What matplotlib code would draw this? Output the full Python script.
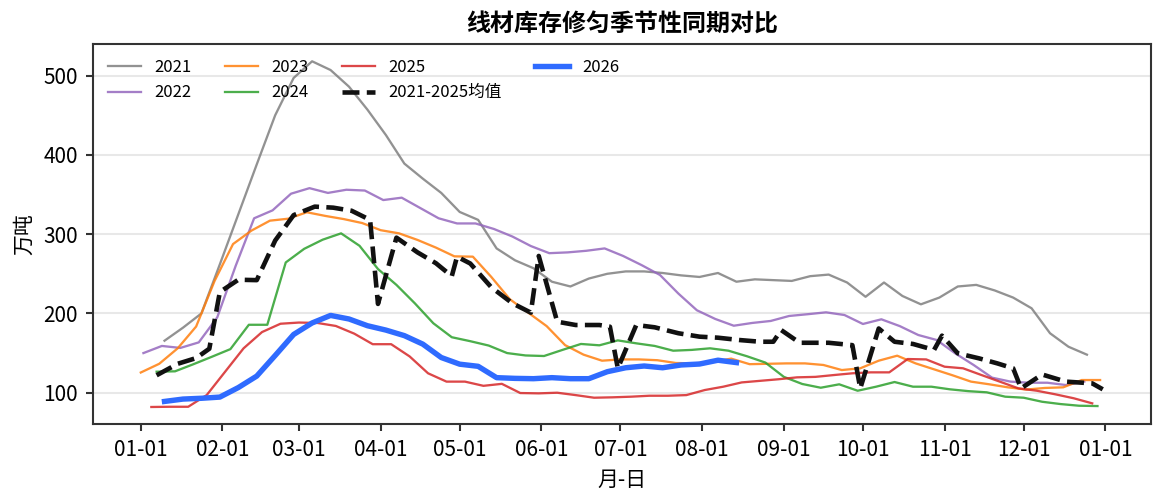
import matplotlib
matplotlib.use("Agg")
import matplotlib.pyplot as plt
import matplotlib.dates as mdates
import pandas as pd

plt.rcParams['font.family'] = ['Noto Sans CJK SC', 'DejaVu Sans']
plt.rcParams['axes.unicode_minus'] = False

BASE_YEAR = 2024  # common (leap) year used for month-day axis

# weekly series: start month-day and values (万吨)
start_2021 = "01-10"
v2021 = [165.6, 182, 200, 262, 325, 388, 450, 497, 518, 507, 486, 457, 425, 389,
         370, 352, 328, 318, 282, 267, 257, 240, 234, 244, 250, 253, 253, 251,
         248, 246, 251, 240, 243, 242, 241, 247, 249, 239, 221, 239, 222, 211.5,
         220, 234, 236, 229, 220, 206.5, 175, 158, 148]

start_2022 = "01-02"
v2022 = [150, 159, 156.5, 163.5, 195, 260, 320, 330, 351, 358, 352, 356, 355, 343,
         346, 333, 320, 313.5, 313.5, 306.5, 297, 285, 276, 277, 279, 282, 272.5,
         261, 248.5, 225, 204, 193, 184.5, 188, 190.5, 196.8, 199, 201.4, 198,
         186.7, 192.6, 184, 172.8, 166.5, 149.7, 135, 119, 114, 112.6, 112.6,
         109.7, 114]

start_2023 = "01-01"
v2023 = [125.5, 136.5, 156, 183.5, 241, 287.5, 304.5, 317, 319.5, 327.6, 323, 319,
         314, 305, 301, 292.7, 283, 272, 271.6, 246, 218, 201, 184, 160, 148,
         140.4, 142, 142, 141, 137.5, 137, 139, 143, 136, 136.5, 137, 137, 135,
         128.6, 130.8, 140.4, 146.7, 137, 129.5, 122, 114, 110.6, 106.8, 104,
         106, 106.8, 116, 116]

start_2024 = "01-07"
v2024 = [126.5, 127, 136, 145.4, 155, 185.7, 185.7, 264.3, 281.5, 293, 301, 285.3,
         256, 236, 212.7, 187.6, 170, 165, 159.5, 150, 147, 146.3, 154, 161.5,
         159.8, 166, 162.3, 159, 153, 154, 156, 153, 146, 138, 120, 111, 106.3,
         110.6, 102.5, 107.6, 113.5, 107.6, 107.6, 104.3, 102, 100.5, 95, 93.7,
         88.6, 85.7, 83.6, 83.2]

start_2025 = "01-05"
v2025 = [82, 82.3, 82.3, 97, 126.5, 156, 176.5, 187, 188.5, 188, 184.2, 174.5,
         161.2, 161.2, 145.8, 124.5, 114, 114, 108.7, 111.2, 99.6, 99.2, 100, 97,
         93.7, 94.2, 95, 96.2, 96.2, 97, 103.4, 107.6, 113, 115, 117, 119.4, 120,
         122.3, 124.5, 125.7, 125.7, 142.5, 142, 132.8, 130.8, 122.3, 113.9,
         105.5, 102.5, 98, 93, 86.6]

start_2026 = "01-10"
v2026 = [89, 92, 93, 94.5, 106.5, 121, 147, 173.5, 188, 197.5, 193, 184.5, 179,
         172, 161.3, 144.4, 136, 133.3, 119, 118.1, 117.7, 119, 117.7, 117.7,
         126.5, 131.5, 133.7, 131.5, 135, 136.2, 141, 138]

# 2021-2025 mean (month-day, value)
mean_dates = ["01-07", "01-15", "01-22", "01-27", "01-31", "02-07", "02-14", "02-21",
              "02-28", "03-07", "03-14", "03-21", "03-28", "03-31", "04-07", "04-15",
              "04-22", "04-28", "04-30", "05-05", "05-13", "05-21", "05-28", "05-31",
              "06-07", "06-14", "06-23", "06-27", "06-30", "07-07", "07-14", "07-23",
              "07-31", "08-07", "08-15", "08-23", "08-28", "08-31", "09-07", "09-18",
              "09-27", "09-30", "10-07", "10-13", "10-20", "10-28", "10-31", "11-06",
              "11-14", "11-21", "11-27", "11-30", "12-08", "12-17", "12-27", "12-31"]
mean_vals = [122, 136.5, 143.7, 155.5, 227, 242.5, 242, 292, 324, 334.7, 333.4, 329.5,
             318, 212, 295.6, 277, 263.3, 247, 271.6, 263, 233, 212.8, 201, 272.5,
             189.6, 185.4, 185.4, 183.3, 130.8, 185.4, 182.5, 175, 170.7, 169.4,
             166.5, 164.3, 164.3, 179, 163, 163, 160, 105.5, 181, 164.3, 161.5, 154,
             172, 149.7, 143.4, 137, 130.8, 105.5, 123, 114, 111.8, 104.3]

series = [
    ("2021", start_2021, v2021, "#7f7f7f", 1.1),
    ("2022", start_2022, v2022, "#9467bd", 1.1),
    ("2023", start_2023, v2023, "#ff7f0e", 1.1),
    ("2024", start_2024, v2024, "#2ca02c", 1.1),
    ("2025", start_2025, v2025, "#d62728", 1.1),
]


def weekly(start, n):
    return pd.date_range(f"{BASE_YEAR}-{start}", periods=n, freq="7D")


fig = plt.figure(figsize=(1166 / 150, 503 / 150), dpi=150)
ax = fig.add_axes([0.0795, 0.1565, 0.9075, 0.756])

handles = {}
for name, st, vals, col, lw in series:
    h, = ax.plot(weekly(st, len(vals)), vals, color=col, lw=lw, alpha=0.85, label=name)
    handles[name] = h

md = pd.to_datetime([f"{BASE_YEAR}-{d}" for d in mean_dates])
hm, = ax.plot(md, mean_vals, color="#111111", lw=2.2, ls="--", label="2021-2025均值")
hb, = ax.plot(weekly(start_2026, len(v2026)), v2026, color="#2f6bff", lw=2.6,
              label="2026")

order = [handles["2021"], handles["2022"], handles["2023"], handles["2024"],
         handles["2025"], hm, hb]
ax.legend(handles=order, labels=[h.get_label() for h in order], loc="upper left",
          ncol=4, frameon=False, fontsize=8)

ax.xaxis.set_major_locator(mdates.MonthLocator())
ax.xaxis.set_major_formatter(mdates.DateFormatter("%m-%d"))
ax.set_yticks([100, 200, 300, 400, 500])
ax.tick_params(labelsize=10, color="#333333", width=1.0)
ax.grid(axis="y", color="#e8e8e8", lw=1.0)
ax.set_axisbelow(True)
for s in ax.spines.values():
    s.set_color("#333333")
    s.set_linewidth(1.0)

ax.set_title("线材库存修匀季节性同期对比", fontsize=11.5, fontweight="bold")
ax.set_xlabel("月-日", fontsize=10)
ax.set_ylabel("万吨", fontsize=10)

fig.savefig("out.png", dpi=150)
